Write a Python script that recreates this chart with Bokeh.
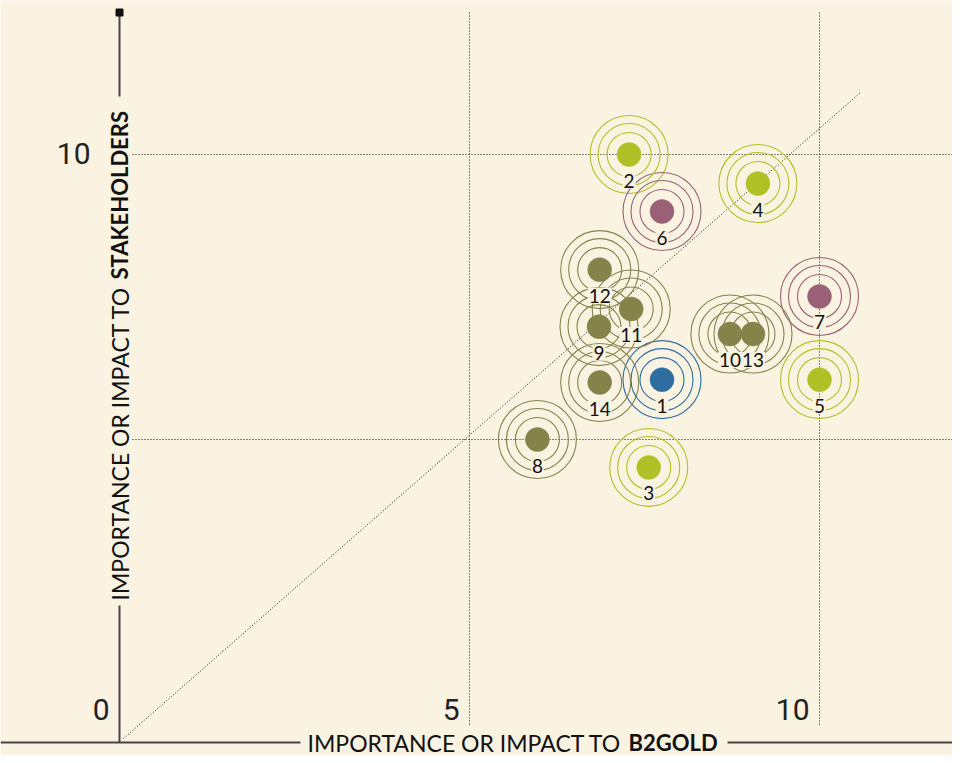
import math
from bokeh.plotting import figure
from bokeh.models import Range1d, ColumnDataSource
from bokeh.core.properties import value
from bokeh.embed import file_html
from bokeh.resources import INLINE

# ---- data ----
issue_ids = ["1", "2", "3", "4", "5", "6", "7", "8", "9", "10", "11", "12", "13", "14"]
impact_b2gold = [7.75, 7.28, 7.56, 9.12, 10.0, 7.75, 10.0, 5.97, 6.85, 8.72, 7.31, 6.86, 9.05, 6.86]
impact_stakeholders = [6.05, 10.0, 4.51, 9.49, 6.05, 9.0, 7.51, 5.0, 6.98, 6.85, 7.29, 7.98, 6.85, 6.0]
groups = ["blue", "lime", "lime", "lime", "lime", "mauve", "mauve",
          "olive", "olive", "olive", "olive", "olive", "olive", "olive"]

x_ticks = [0, 5, 10]
x_tick_labels = ["0", "5", "10"]
y_ticks = [10]
y_tick_labels = ["10"]
grid_x = [5, 10]
grid_y = [5, 10]

x_title_normal = "IMPORTANCE OR IMPACT TO"
x_title_bold = "B2GOLD"
y_title_normal = "IMPORTANCE OR IMPACT TO"
y_title_bold = "STAKEHOLDERS"

# ---- styles ----
BG = "#FAF3E2"
AXIS_C = "#444444"
DOT_C = "#111111"
palette = {"blue": "#2F6CA0", "lime": "#AEC227", "mauve": "#9A6176", "olive": "#85824A"}
colors = [palette[g] for g in groups]

PX = 70.0   # px per x unit
PY = 57.0   # px per y unit
W, H = 952, 755
ox, oy = 119, 724  # origin in plot px (from left, from top)

x_range = Range1d(-ox / PX, (W - ox) / PX)
y_range = Range1d((oy - H) / PY, oy / PY)

p = figure(width=W, height=H, x_range=x_range, y_range=y_range,
           x_axis_type=None, y_axis_type=None,
           output_backend="svg", toolbar_location=None,
           background_fill_color=BG, border_fill_color=BG,
           outline_line_color=None, min_border=0)
p.grid.visible = False
p.min_border_left = p.min_border_right = p.min_border_top = p.min_border_bottom = 0


def ix(px):   # pixel column -> x data
    return (px - ox) / PX


def iy(px):   # pixel row -> y data
    return (oy - px) / PY


x_axis_y = iy(742)
top_y = iy(12)

# gridlines (dotted)
for gx in grid_x:
    p.segment(x0=[gx], y0=[top_y], x1=[gx], y1=[iy(726)],
              line_color=DOT_C, line_width=1, line_dash="1 2")
for gy in grid_y:
    p.segment(x0=[ix(132)], y0=[gy], x1=[x_range.end], y1=[gy],
              line_color=DOT_C, line_width=1, line_dash="1 2")

# diagonal reference line
p.segment(x0=[ix(123)], y0=[iy(738)], x1=[ix(860)], y1=[iy(92)],
          line_color=DOT_C, line_width=1, line_dash="1 2")

# axis lines
p.segment(x0=[x_range.start, ix(727)], y0=[x_axis_y, x_axis_y],
          x1=[ix(300), x_range.end], y1=[x_axis_y, x_axis_y],
          line_color=AXIS_C, line_width=2)
p.segment(x0=[0, 0], y0=[top_y, iy(605)],
          x1=[0, 0], y1=[iy(96), x_axis_y],
          line_color=AXIS_C, line_width=2)
p.scatter(x=[0], y=[top_y], marker="square", size=7, color="#111111")

# tick labels
p.text(x=x_ticks, y=[iy(709)] * len(x_ticks), text=x_tick_labels,
       text_align="right", text_baseline="middle", x_offset=-10,
       text_font=value("Roboto"), text_font_size="30px", text_color="#222222")
p.text(x=[0] * len(y_ticks), y=y_ticks, text=y_tick_labels,
       text_align="right", text_baseline="middle", x_offset=-29, y_offset=-1,
       text_font=value("Roboto"), text_font_size="30px", text_color="#222222")

# axis titles
p.text(x=[ix(621)], y=[x_axis_y], text=[x_title_normal], text_align="right",
       text_baseline="middle", text_font=value("Lato"), text_font_size="23px",
       text_color="#111111")
p.text(x=[ix(628)], y=[x_axis_y], text=[x_title_bold], text_align="left",
       text_baseline="middle", text_font=value("Lato"), text_font_size="22px",
       text_font_style="bold", text_color="#111111")
p.text(x=[0], y=[iy(286)], text=[y_title_normal], angle=math.pi / 2,
       text_align="right", text_baseline="middle", text_font=value("Lato"),
       text_font_size="23px", text_color="#111111")
p.text(x=[0], y=[iy(279)], text=[y_title_bold], angle=math.pi / 2,
       text_align="left", text_baseline="middle", text_font=value("Lato"),
       text_font_size="22px", text_font_style="bold", text_color="#111111")

# bubbles
src = ColumnDataSource(dict(x=impact_b2gold, y=impact_stakeholders, c=colors, t=issue_ids))
for r in (39, 31, 22):
    p.scatter(x="x", y="y", source=src, marker="circle", size=2 * r,
              fill_color=None, line_color="c", line_width=1.1)
p.scatter(x="x", y="y", source=src, marker="circle", size=24,
          fill_color="c", line_color="c", line_width=0.5)
p.text(x="x", y="y", text="t", source=src, y_offset=26,
       text_align="center", text_baseline="middle",
       text_font=value("Lato"), text_font_size="19px", text_color="#111111",
       background_fill_color=BG, padding=1)

open("out.html", "w").write(file_html(p, INLINE))
